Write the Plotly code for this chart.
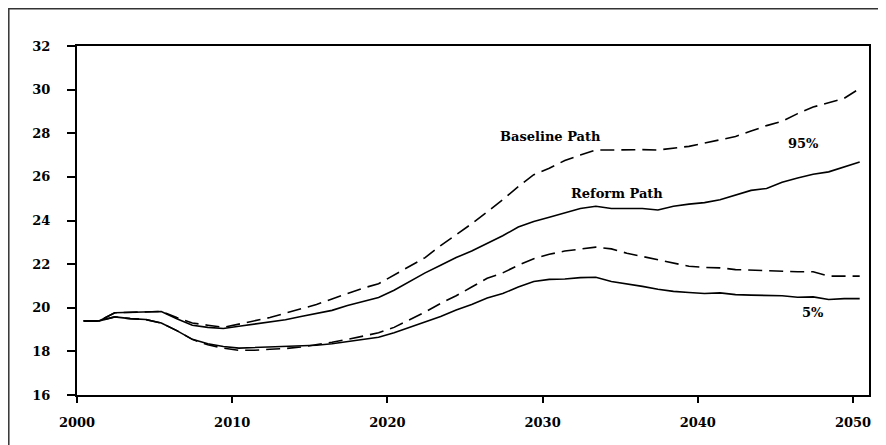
import plotly.graph_objects as go

years = list(range(2000, 2051))

reform_95 = [19.4, 19.4, 19.77, 19.8, 19.82, 19.83, 19.5, 19.2, 19.1, 19.05,
             19.15, 19.25, 19.33, 19.45, 19.6, 19.75, 19.88, 20.1, 20.3, 20.47,
             20.8, 21.2, 21.6, 21.95, 22.3, 22.6, 22.95, 23.3, 23.7, 23.95,
             24.15, 24.35, 24.55, 24.65, 24.55, 24.55, 24.55, 24.48, 24.65, 24.75,
             24.82, 24.95, 25.15, 25.38, 25.47, 25.75, 25.95, 26.12, 26.23, 26.45,
             26.68]

baseline_95 = [19.4, 19.4, 19.77, 19.8, 19.82, 19.83, 19.55, 19.3, 19.2, 19.1,
               19.25, 19.4, 19.55, 19.75, 19.95, 20.15, 20.4, 20.65, 20.9, 21.1,
               21.5, 21.9, 22.3, 22.85, 23.35, 23.85, 24.4, 24.95, 25.55, 26.1,
               26.4, 26.75, 27.0, 27.23, 27.23, 27.25, 27.25, 27.23, 27.3, 27.4,
               27.55, 27.7, 27.85, 28.1, 28.35, 28.55, 28.9, 29.2, 29.4, 29.6,
               30.05]

reform_5 = [19.4, 19.4, 19.58, 19.5, 19.46, 19.3, 18.95, 18.55, 18.35, 18.22,
            18.15, 18.17, 18.2, 18.22, 18.23, 18.28, 18.35, 18.45, 18.55, 18.65,
            18.85, 19.1, 19.35, 19.6, 19.9, 20.15, 20.45, 20.65, 20.95, 21.2,
            21.3, 21.32, 21.38, 21.4, 21.2, 21.1, 20.98, 20.85, 20.75, 20.7,
            20.65, 20.68, 20.6, 20.58, 20.58, 20.55, 20.48, 20.5, 20.38, 20.42,
            20.42]

baseline_5 = [19.4, 19.4, 19.58, 19.5, 19.46, 19.3, 18.95, 18.55, 18.3, 18.15,
              18.05, 18.05, 18.1, 18.13, 18.2, 18.3, 18.42, 18.55, 18.7, 18.85,
              19.1, 19.45, 19.8, 20.2, 20.55, 20.95, 21.35, 21.6, 21.95, 22.25,
              22.45, 22.6, 22.7, 22.78, 22.7, 22.5, 22.35, 22.2, 22.05, 21.9,
              21.85, 21.83, 21.75, 21.72, 21.7, 21.68, 21.65, 21.65, 21.45, 21.45,
              21.45]

x_ticks = [2000, 2010, 2020, 2030, 2040, 2050]
y_ticks = [16, 18, 20, 22, 24, 26, 28, 30, 32]

labels = ["Baseline Path", "Reform Path", "95%", "5%"]
label_x = [2030.5, 2034.8, 2046.8, 2047.4]
label_y = [27.83, 25.26, 27.55, 19.76]

# annual values plotted at mid-year (category-style placement)
xpos = [y + 0.43 for y in years]

FONT = "DejaVu Serif"
fig = go.Figure()
dash = "14px,7px"
for vals, d in [(baseline_95, dash), (reform_95, "solid"),
                (baseline_5, dash), (reform_5, "solid")]:
    fig.add_trace(go.Scatter(x=xpos, y=vals, mode="lines",
                             line=dict(color="black", width=1.6, dash=d),
                             showlegend=False, hoverinfo="skip"))

for t, xx, yy in zip(labels, label_x, label_y):
    fig.add_annotation(x=xx, y=yy, text=t, showarrow=False,
                       font=dict(family=FONT, size=13, color="black", weight="bold"),
                       xanchor="center", yanchor="middle")

# the page body adds an 8px offset, so the figure is sized/positioned to compensate
OFF = 8
FW, FH = 886 - OFF, 445 - OFF
L, T, W, H = 77 - OFF, 46 - OFF, 792, 349

def px_to_paper(px, py):
    return (px - L) / W, (T + H - py) / H

x0, y0 = px_to_paper(0.8, 0.8)
x1, y1 = px_to_paper(FW + 10, FH + 10)
fig.add_shape(type="rect", xref="paper", yref="paper", x0=x0, y0=y1, x1=x1, y1=y0,
              line=dict(color="#333333", width=1.5), layer="above")

fig.update_layout(
    width=FW, height=FH,
    margin=dict(l=L, r=FW - L - W, t=T, b=FH - T - H),
    plot_bgcolor="white", paper_bgcolor="white",
    font=dict(family=FONT, color="black"),
)
fig.update_xaxes(range=[2000, 2051.03], tickvals=x_ticks, ticktext=[str(v) for v in x_ticks],
                 showgrid=False, zeroline=False, showline=True, linecolor="black", linewidth=2,
                 mirror=True, ticks="outside", ticklen=6, tickwidth=2, tickcolor="black",
                 tickfont=dict(family=FONT, size=13, color="black", weight="bold"),
                 ticklabelstandoff=8)
fig.update_yaxes(range=[16, 32], tickvals=y_ticks, ticktext=[str(v) for v in y_ticks],
                 showgrid=False, zeroline=False, showline=True, linecolor="black", linewidth=2,
                 mirror=True, ticks="outside", ticklen=8, tickwidth=2, tickcolor="black",
                 tickfont=dict(family=FONT, size=13, color="black", weight="bold"),
                 ticklabelstandoff=14)

fig.write_html("out.html")
